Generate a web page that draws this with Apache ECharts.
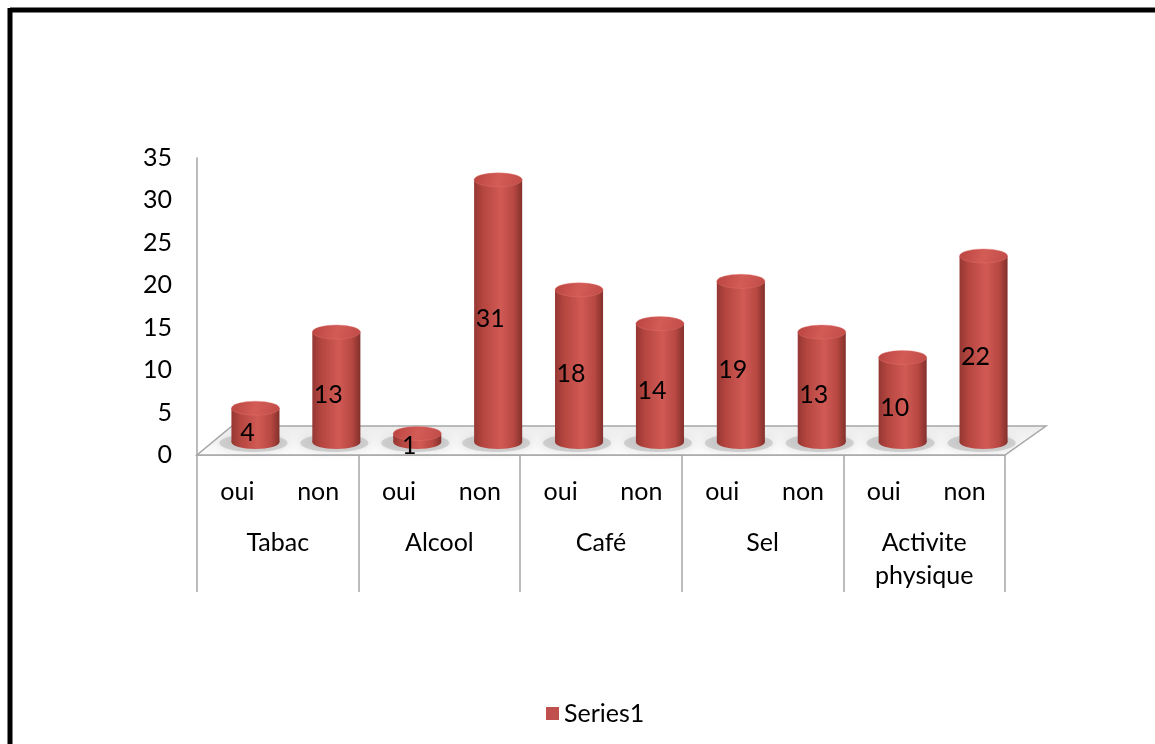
<!DOCTYPE html>
<html>
<head>
<meta charset="utf-8">
<title>Series1</title>
<script src="https://cdn.jsdelivr.net/npm/echarts@6/dist/echarts.min.js"></script>
<style>
  html, body { margin: 0; padding: 0; background: #fff; overflow: hidden; }
  #chart { width: 1155px; height: 744px; }
</style>
</head>
<body>
<div id="chart"></div>
<script>
// Answers (oui / non) for each habit
const subCategories = ['oui', 'non', 'oui', 'non', 'oui', 'non', 'oui', 'non', 'oui', 'non'];
const groups = ['Tabac', 'Alcool', 'Café', 'Sel', 'Activite\nphysique'];
const series1 = [4, 13, 1, 31, 18, 14, 19, 13, 10, 22];
const yTicks = [0, 5, 10, 15, 20, 25, 30, 35];

const FONT = 'Lato, "Open Sans", sans-serif';
const FONT_SIZE = 25;
const AXIS_GRAY = '#a6a6a6';

// front plane of the chart (axes, category table)
const axisGrid = { left: 197, right: 150, top: 158, bottom: 289 };
// plane where the cylinders stand (set back into the floor)
const barGrid = { left: 215, right: 131, top: 146, bottom: 302 };
// floor depth offsets
const floorBackY = 426, floorFrontY = 455;
const floorBackLeftX = 232, floorBackRightX = 1046;
const floorFrontLeftX = axisGrid.left, floorFrontRightX = 1155 - axisGrid.right;

const chart = echarts.init(document.getElementById('chart'), null, { renderer: 'canvas' });

const bodyGradient = new echarts.graphic.LinearGradient(0, 0, 1, 0, [
  { offset: 0, color: '#953733' },
  { offset: 0.18, color: '#b4453f' },
  { offset: 0.55, color: '#d15a55' },
  { offset: 0.82, color: '#b84842' },
  { offset: 1, color: '#83302c' }
]);
const topGradient = new echarts.graphic.LinearGradient(0, 0, 1, 1, [
  { offset: 0, color: '#b9433f' },
  { offset: 0.5, color: '#d35c57' },
  { offset: 1, color: '#c04b46' }
]);

function renderCylinder(params, api) {
  const idx = api.value(0);
  const v = api.value(1);
  const base = api.coord([idx, 0]);
  const top = api.coord([idx, v]);
  const band = api.size([1, 0])[0];
  const rx = band * 0.297;
  const ry = 7;
  const cx = base[0];
  const yb = base[1];
  const yt = top[1];
  return {
    type: 'group',
    children: [
      {
        type: 'ellipse',
        shape: { cx: cx - 2, cy: yb + 1, rx: rx + 10, ry: ry + 2 },
        style: { fill: 'rgba(150,150,150,0.35)', shadowBlur: 10, shadowColor: 'rgba(120,120,120,0.5)' }
      },
      {
        type: 'ellipse',
        shape: { cx: cx, cy: yb, rx: rx, ry: ry },
        style: { fill: bodyGradient }
      },
      {
        type: 'rect',
        shape: { x: cx - rx, y: yt, width: rx * 2, height: yb - yt },
        style: { fill: bodyGradient }
      },
      {
        type: 'ellipse',
        shape: { cx: cx, cy: yt, rx: rx, ry: ry },
        style: { fill: topGradient, stroke: 'rgba(230,120,115,0.6)', lineWidth: 0.6 }
      },
      {
        type: 'text',
        style: {
          x: cx - 8,
          y: (yt + yb) / 2 + 8,
          text: String(v),
          fill: '#000',
          font: FONT_SIZE + 'px ' + FONT,
          align: 'center',
          verticalAlign: 'middle'
        },
        z2: 10
      }
    ]
  };
}

function renderFloor() {
  return {
    type: 'polygon',
    shape: {
      points: [
        [floorFrontLeftX, floorFrontY], [floorFrontRightX, floorFrontY],
        [floorBackRightX, floorBackY], [floorBackLeftX, floorBackY]
      ]
    },
    style: {
      fill: new echarts.graphic.LinearGradient(0, 0, 0, 1, [
        { offset: 0, color: '#ececec' },
        { offset: 1, color: '#fcfcfc' }
      ]),
      stroke: AXIS_GRAY,
      lineWidth: 1.5
    }
  };
}

const option = {
  animation: false,
  backgroundColor: '#fff',
  textStyle: { fontFamily: FONT },
  graphic: [
    {
      type: 'line',
      shape: { x1: 10, y1: 10, x2: 1155, y2: 10 },
      style: { stroke: '#000', lineWidth: 5 },
      z: 100
    },
    {
      type: 'line',
      shape: { x1: 10, y1: 8, x2: 10, y2: 744 },
      style: { stroke: '#000', lineWidth: 5 },
      z: 100
    }
  ],
  legend: {
    data: [{ name: 'Series1', icon: 'rect', itemStyle: { color: '#c0504d' } }],
    left: 541,
    top: 696,
    itemWidth: 13,
    itemHeight: 13,
    textStyle: { fontSize: FONT_SIZE, color: '#000', fontFamily: FONT }
  },
  grid: [
    Object.assign({ containLabel: false }, axisGrid),
    Object.assign({ containLabel: false }, barGrid)
  ],
  xAxis: [
    {
      type: 'category',
      gridIndex: 0,
      data: subCategories,
      position: 'bottom',
      axisLine: { show: true, lineStyle: { color: AXIS_GRAY, width: 1.5 } },
      axisTick: { show: false },
      axisLabel: { interval: 0, margin: 22, fontSize: FONT_SIZE, lineHeight: 30, color: '#000', fontFamily: FONT }
    },
    {
      type: 'category',
      gridIndex: 0,
      data: groups,
      position: 'bottom',
      axisLine: { show: false },
      axisTick: { show: true, interval: 0, length: 137, lineStyle: { color: AXIS_GRAY, width: 1.5 } },
      axisLabel: { interval: 0, margin: 71, fontSize: FONT_SIZE, lineHeight: 33, color: '#000', fontFamily: FONT }
    },
    {
      type: 'category',
      gridIndex: 1,
      data: subCategories,
      show: false
    }
  ],
  yAxis: [
    {
      type: 'value',
      gridIndex: 0,
      min: 0,
      max: 35,
      interval: 5,
      axisLine: { show: true, lineStyle: { color: AXIS_GRAY, width: 1.5 } },
      axisTick: { show: false },
      splitLine: { show: false },
      axisLabel: {
        margin: 25,
        fontSize: FONT_SIZE,
        color: '#000',
        fontFamily: FONT,
        formatter: function (val) { return yTicks.indexOf(val) >= 0 ? String(val) : ''; }
      }
    },
    {
      type: 'value',
      gridIndex: 1,
      min: 0,
      max: 35,
      interval: 5,
      show: false
    }
  ],
  series: [
    {
      name: 'floor',
      type: 'custom',
      xAxisIndex: 2,
      yAxisIndex: 1,
      renderItem: renderFloor,
      data: [[0, 0]],
      silent: true,
      z: 1
    },
    {
      name: 'Series1',
      type: 'custom',
      xAxisIndex: 2,
      yAxisIndex: 1,
      renderItem: renderCylinder,
      itemStyle: { color: '#c0504d' },
      data: series1.map(function (v, i) { return [i, v]; }),
      z: 5
    }
  ]
};

chart.setOption(option);
</script>
</body>
</html>
